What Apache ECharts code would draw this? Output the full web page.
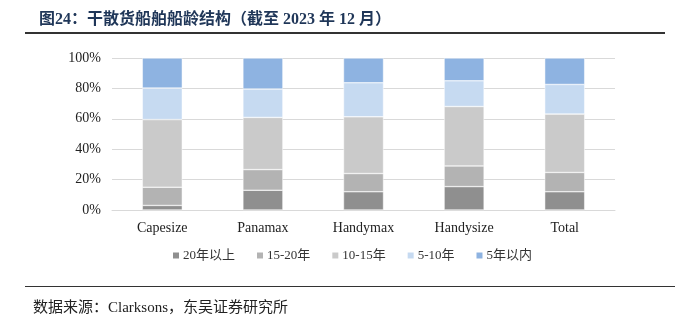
<!DOCTYPE html>
<html><head><meta charset="utf-8">
<script src="https://cdn.jsdelivr.net/npm/echarts@6/dist/echarts.min.js"></script>
<style>html,body{margin:0;padding:0;background:#fff}#c{width:675px;height:322px}</style>
</head><body><div id="c"></div>
<script>
const categories = ['Capesize', 'Panamax', 'Handymax', 'Handysize', 'Total'];
const seriesNames = ['20年以上', '15-20年', '10-15年', '5-10年', '5年以内'];
const over20 = [3, 13, 12, 15.4, 12];
const y15to20 = [12, 13.6, 12, 13.6, 12.7];
const y10to15 = [44.5, 34.3, 37.3, 39.1, 38.4];
const y5to10 = [20.7, 18.7, 22.4, 16.9, 19.5];
const under5 = [19.8, 20.4, 16.3, 15, 17.4];
const yTicks = [0, 20, 40, 60, 80, 100];
const colors = ['#8f8f8f', '#b3b3b3', '#cacaca', '#c6daf1', '#8eb3e1'];
const serif = '"Liberation Serif", "Times New Roman", "Noto Sans CJK SC", serif';
const values = [over20, y15to20, y10to15, y5to10, under5];

const chart = echarts.init(document.getElementById('c'));
chart.setOption({
  animation: false,
  textStyle: { fontFamily: serif },
  title: {
    text: '图24：干散货船舶船龄结构（截至 2023 年 12 月）',
    left: 34, top: 7,
    textStyle: { fontFamily: serif, fontSize: 16, fontWeight: 'bold', color: '#1f3658' }
  },
  graphic: [
    { type: 'rect', shape: { x: 25, y: 32, width: 640, height: 2 }, style: { fill: '#333' } },
    { type: 'rect', shape: { x: 25, y: 286, width: 650, height: 1 }, style: { fill: '#333' } },
    { type: 'text', left: 33, top: 301, style: { text: '数据来源：Clarksons，东吴证券研究所', font: '15px ' + serif, fill: '#222' } }
  ],
  legend: {
    data: seriesNames,
    bottom: 55, left: 166,
    itemWidth: 8, itemHeight: 8, itemGap: 20,
    icon: 'rect',
    textStyle: { fontFamily: serif, fontSize: 13, color: '#333', padding: [0, 0, 0, -2] }
  },
  grid: { left: 112, right: 60, top: 58, bottom: 112 },
  xAxis: {
    type: 'category', data: categories,
    axisLine: { lineStyle: { color: '#d9d9d9' } },
    axisTick: { show: false },
    axisLabel: { fontFamily: serif, fontSize: 14, color: '#222', margin: 11 }
  },
  yAxis: {
    type: 'value', min: 0, max: 100, interval: 20,
    axisLabel: { fontFamily: serif, fontSize: 14, color: '#222', margin: 11,
      formatter: v => yTicks.includes(v) ? v + '%' : '' },
    splitLine: { lineStyle: { color: '#d9d9d9' } },
    axisLine: { show: false }, axisTick: { show: false }
  },
  series: seriesNames.map((n, i) => ({
    name: n, type: 'bar', stack: 'a', barWidth: 40,
    data: values[i],
    itemStyle: { color: colors[i], borderColor: '#fff', borderWidth: 0.5 }
  }))
});
</script></body></html>
